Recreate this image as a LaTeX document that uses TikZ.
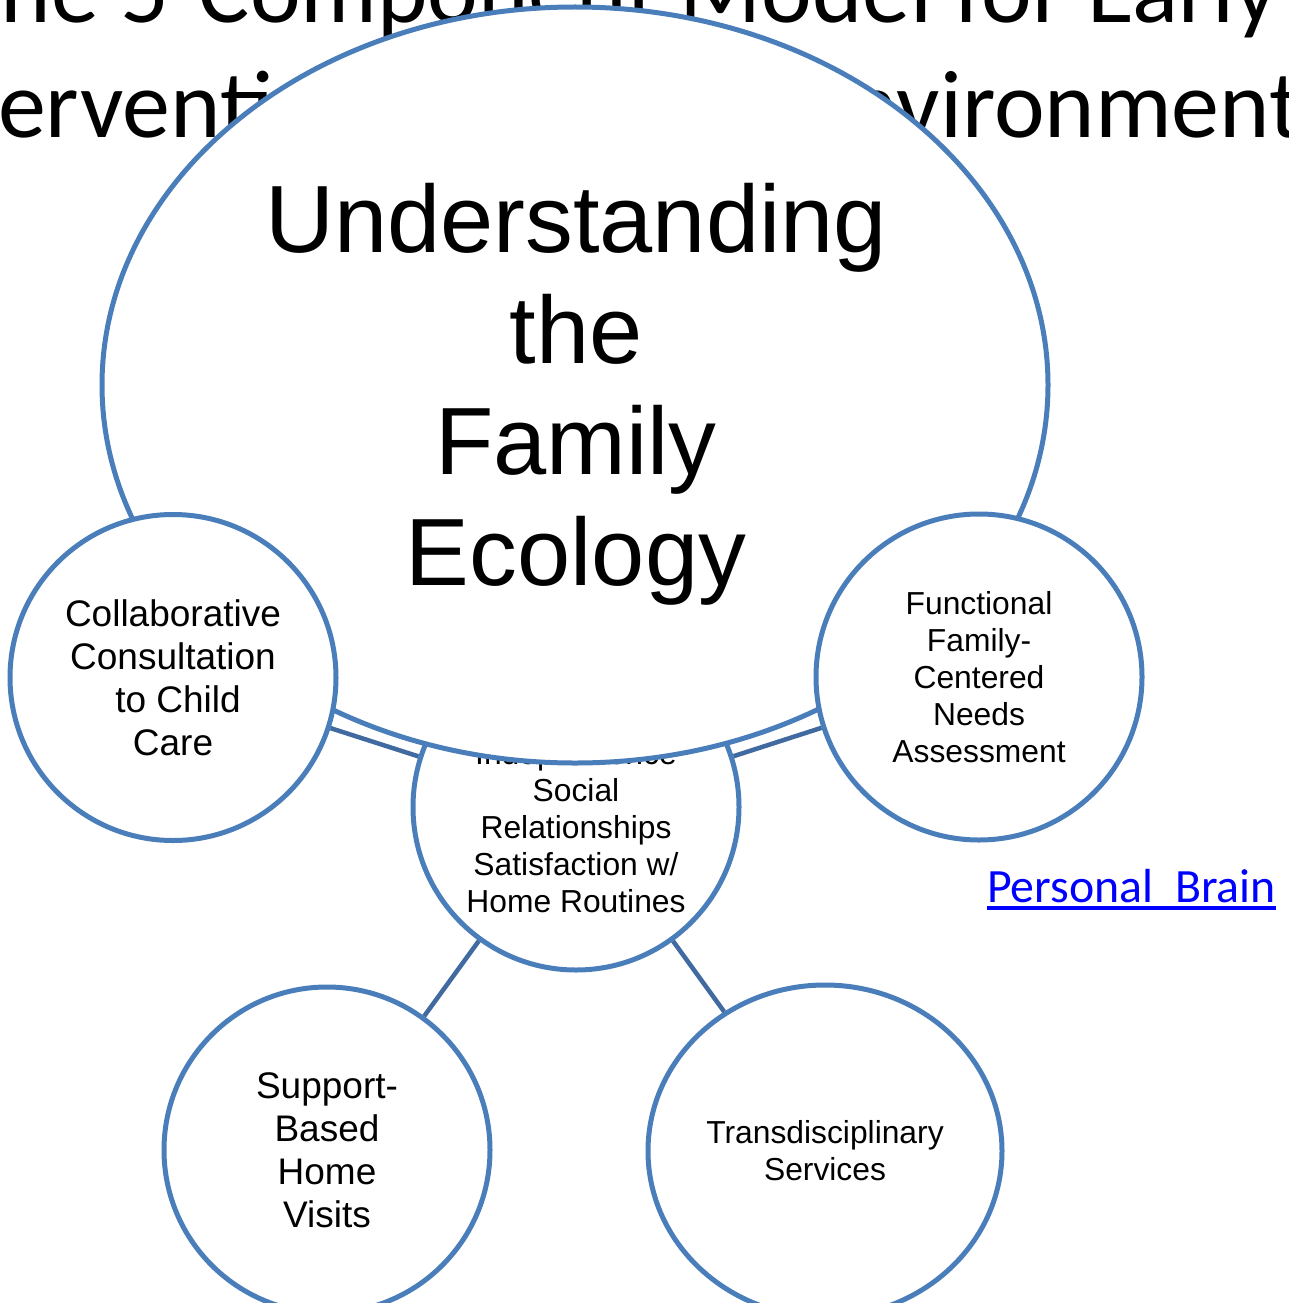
\documentclass[tikz,border=0pt]{standalone}
\usepackage{fontspec}
\setmainfont{Liberation Sans}
\newfontfamily\titlefont{Carlito}
\usetikzlibrary{shapes.geometric}
\definecolor{ringblue}{RGB}{74,126,187}
\definecolor{connblue}{RGB}{64,106,160}
\definecolor{hyperblue}{RGB}{0,0,255}
\begin{document}
\begin{tikzpicture}[x=1pt,y=-1pt,
  ring/.style={draw=ringblue, line width=5pt, fill=white, circle, inner sep=0pt, minimum size=326, align=center},
  conn/.style={draw=connblue, line width=4.5pt},
  bigtxt/.style={font=\fontsize{37}{43}\selectfont},
  smalltxt/.style={font=\fontsize{31.8}{37}\selectfont},
  titletxt/.style={anchor=base west, inner sep=0pt, font=\titlefont\fontsize{96}{115}\selectfont}]
\useasboundingbox (0,0) rectangle (1288,1303);
\clip (0,0) rectangle (1288,1303);
\fill[white] (0,0) rectangle (1288,1303);
% title (partly hidden)
\node[titletxt] (t1) at (-46,23) {The 5-Component Model for Early};
\node[titletxt] (t2) at (-107,138) {Intervention in Natural Environments};
% centre circle (under the big ellipse)
\node[ring] (cC) at (576,807) {};
\node[smalltxt, align=center, inner sep=0pt] (cCtext) at (576,827.5) {Independence\\Social\\Relationships\\Satisfaction w/\\Home Routines};
% big ellipse
\node[draw=ringblue, line width=5pt, fill=white, ellipse, inner sep=0pt, minimum width=946, minimum height=756] (eco) at (575,385) {};
\node[align=center, inner sep=0pt, font=\fontsize{95.6}{111}\selectfont] (ecotext) at (576,394) {Understanding\\the\\Family\\Ecology};
% outer circles
\node[ring, bigtxt] (cL) at (173,677.5) {Collaborative\\Consultation\\\hspace*{10pt}to Child\\Care};
\node[ring, smalltxt] (cR) at (979,677) {Functional\\Family-\\Centered\\Needs\\Assessment};
\node[ring, bigtxt] (cBL) at (327,1150) {Support-\\Based\\Home\\Visits};
\node[draw=ringblue, line width=5pt, fill=white, ellipse, inner sep=0pt, minimum width=354, minimum height=332, align=center, smalltxt] (cBR) at (825,1151) {Transdisciplinary\\Services};
% connectors
\draw[conn] (cL) -- (cC);
\draw[conn] (cR) -- (cC);
\draw[conn] (cC) -- (cBL);
\draw[conn] (cC) -- (cBR);
% link
\node[anchor=base west, inner sep=0pt, text=hyperblue, font=\titlefont\fontsize{47.8}{57}\selectfont] (link) at (987,902) {Personal\ \ Brain};
\draw[hyperblue, line width=3.5pt] ([yshift=-6pt]link.base west) -- ([yshift=-6pt]link.base east);
\end{tikzpicture}
\end{document}
